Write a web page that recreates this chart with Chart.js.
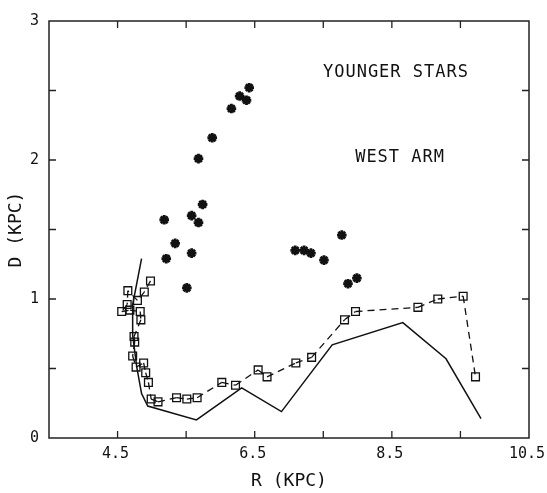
<!DOCTYPE html>
<html><head><meta charset="utf-8">
<script src="https://cdn.jsdelivr.net/npm/chart.js@4"></script>
<style>html,body{margin:0;padding:0;background:#fff}</style>
</head><body>
<canvas id="c" width="547" height="493"></canvas>
<script>
// Younger stars (asterisks)
const starR = [6.42, 6.28, 6.38, 6.16, 5.88, 5.68, 5.74, 5.58, 5.68, 5.18, 5.34, 5.58, 5.21, 5.51, 7.77, 7.09, 7.22, 7.32, 7.51, 7.86, 7.99];
const starD = [2.52, 2.46, 2.43, 2.37, 2.16, 2.01, 1.68, 1.60, 1.55, 1.57, 1.40, 1.33, 1.29, 1.08, 1.46, 1.35, 1.35, 1.33, 1.28, 1.11, 1.15];
// West arm (squares, dashed line)
const squareR = [4.98, 4.89, 4.79, 4.65, 4.64, 4.56, 4.68, 4.83, 4.84, 4.74, 4.75, 4.72, 4.77, 4.88, 4.91, 4.95, 4.99, 5.09, 5.36, 5.51, 5.66, 6.02, 6.22, 6.55, 6.68, 7.10, 7.33, 7.81, 7.97, 8.88, 9.17, 9.54, 9.72];
const squareD = [1.13, 1.05, 0.99, 1.06, 0.96, 0.91, 0.92, 0.91, 0.85, 0.73, 0.69, 0.59, 0.51, 0.54, 0.47, 0.40, 0.28, 0.26, 0.29, 0.28, 0.29, 0.40, 0.38, 0.49, 0.44, 0.54, 0.58, 0.85, 0.91, 0.94, 1.00, 1.02, 0.44];
// Solid curve
const curveR = [4.85, 4.72, 4.72, 4.78, 4.85, 4.94, 5.65, 6.31, 6.89, 7.63, 8.66, 9.29, 9.80];
const curveD = [1.29, 0.96, 0.74, 0.51, 0.32, 0.23, 0.13, 0.36, 0.19, 0.67, 0.83, 0.57, 0.14];
// Axis ticks
const xLabelTicks = [4.5, 6.5, 8.5, 10.5];
const xTickMarks = [4.5, 5.5, 6.5, 7.5, 8.5, 9.5];
const yLabelTicks = [0, 1, 2, 3];
const yTickMarks = [0.5, 1, 1.5, 2, 2.5];
// Text labels
const noteTexts = ['YOUNGER STARS', 'WEST ARM'];
const noteR = [8.56, 8.62];
const noteD = [2.63, 2.02];

const pts = (xs, ys) => xs.map((v, i) => ({x: v, y: ys[i]}));
const INK = '#111';
const tickFont = {family: 'DejaVu Sans Mono', size: 15};
const titleFont = {family: 'DejaVu Sans Mono', size: 18};

const deco = {
  id: 'deco',
  afterDatasetsDraw(chart) {
    const {ctx, chartArea: a, scales: {x, y}} = chart;
    ctx.save();
    ctx.strokeStyle = '#222';
    ctx.lineWidth = 1.5;
    ctx.strokeRect(a.left, a.top, a.right - a.left, a.bottom - a.top);
    ctx.lineWidth = 1.3;
    ctx.beginPath();
    const L = 7;
    xTickMarks.forEach(v => {
      const px = x.getPixelForValue(v);
      ctx.moveTo(px, a.bottom); ctx.lineTo(px, a.bottom - L);
      ctx.moveTo(px, a.top); ctx.lineTo(px, a.top + L);
    });
    yTickMarks.forEach(v => {
      const py = y.getPixelForValue(v);
      ctx.moveTo(a.left, py); ctx.lineTo(a.left + L, py);
      ctx.moveTo(a.right, py); ctx.lineTo(a.right - L, py);
    });
    ctx.stroke();
    ctx.fillStyle = INK;
    ctx.font = '17px "DejaVu Sans Mono"';
    try { ctx.letterSpacing = '1px'; } catch (e) {}
    ctx.textAlign = 'center';
    ctx.textBaseline = 'middle';
    noteTexts.forEach((t, i) => {
      ctx.fillText(t, x.getPixelForValue(noteR[i]), y.getPixelForValue(noteD[i]));
    });
    ctx.restore();
  }
};

new Chart(document.getElementById('c'), {
  type: 'scatter',
  data: {
    datasets: [
      {
        label: 'curve', data: pts(curveR, curveD), showLine: true,
        borderColor: INK, borderWidth: 1.5, pointRadius: 0, tension: 0, fill: false
      },
      {
        label: 'West arm', data: pts(squareR, squareD), showLine: true,
        borderColor: INK, borderWidth: 1.3, borderDash: [7, 5], tension: 0, fill: false,
        segment: {borderDashOffset: c => (c.p0DataIndex % 2 ? 0.001 : 0)},
        pointStyle: 'rect', pointRadius: 5.5, pointBorderWidth: 1.3,
        pointBorderColor: INK, pointBackgroundColor: 'rgba(0,0,0,0)'
      },
      {
        label: 'Younger stars', data: pts(starR, starD), showLine: false,
        pointStyle: 'star', pointRadius: 4.8, pointBorderWidth: 2.8,
        pointBorderColor: INK, pointBackgroundColor: INK
      }
    ]
  },
  options: {
    responsive: false, animation: false, devicePixelRatio: 1,
    layout: {padding: {left: 0, right: 18, top: 21, bottom: 0}},
    plugins: {legend: {display: false}, tooltip: {enabled: false}},
    scales: {
      x: {
        type: 'linear', min: 3.5, max: 10.5,
        afterBuildTicks: s => { s.ticks = xLabelTicks.map(v => ({value: v})); },
        grid: {display: false, drawTicks: false}, border: {display: false},
        ticks: {font: tickFont, color: INK, padding: 7, maxRotation: 0, autoSkip: false,
                labelOffset: -2, callback: v => v.toFixed(1)},
        title: {display: true, text: 'R (KPC)', font: titleFont, color: INK, padding: {top: 0, bottom: 1}},
        afterFit: s => { s.height = 55; s.paddingLeft = 0; s.paddingRight = 0; }
      },
      y: {
        type: 'linear', min: 0, max: 3,
        afterBuildTicks: s => { s.ticks = yLabelTicks.map(v => ({value: v})); },
        grid: {display: false, drawTicks: false}, border: {display: false},
        ticks: {font: tickFont, color: INK, padding: 10, autoSkip: false, callback: v => String(v)},
        title: {display: true, text: 'D (KPC)', font: titleFont, color: INK, padding: {top: 6, bottom: 0}},
        afterFit: s => { s.width = 49; s.paddingTop = 0; s.paddingBottom = 0; }
      }
    }
  },
  plugins: [deco]
});
</script>
</body></html>
